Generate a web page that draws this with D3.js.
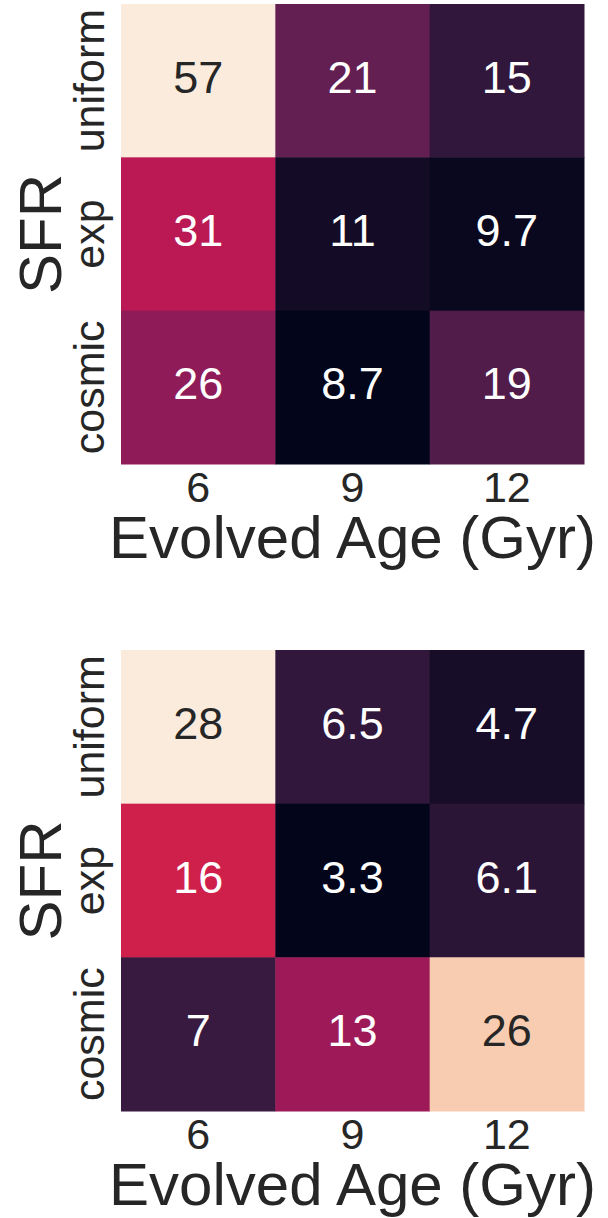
<!DOCTYPE html>
<html>
<head>
<meta charset="utf-8">
<script src="https://cdn.jsdelivr.net/npm/d3@7"></script>
<style>
  body { margin: 0; background: #fff; }
  text { font-family: "Liberation Sans", Arial, sans-serif; fill: #262626; }
</style>
</head>
<body>
<script>
const w = 608;
const h = 1218;

// categories
const ages = ["6", "9", "12"];
const sfrs = ["uniform", "exp", "cosmic"];

// cell values, one row per SFR
const topValues = [
  [57, 21, 15],
  [31, 11, 9.7],
  [26, 8.7, 19]
];
const bottomValues = [
  [28, 6.5, 4.7],
  [16, 3.3, 6.1],
  [7, 13, 26]
];

// seaborn "rocket" colormap, sampled (position, colour)
const rocketPos = [0, 1 / 7, 2 / 7, 3 / 7, 0.5, 4 / 7, 5 / 7, 6 / 7, 1];
const rocketStops = ["#03051a", "#35193e", "#701f57", "#ad1759", "#cb1b4f", "#e13342", "#f37651", "#f6b48f", "#faebdd"];
const rocket = d3.scaleLinear()
  .domain(rocketPos)
  .range(rocketStops)
  .interpolate(d3.interpolateRgb);

function luminance(c) {
  const rgb = d3.rgb(c);
  const lin = v => {
    v = v / 255;
    return v <= 0.03928 ? v / 12.92 : Math.pow((v + 0.055) / 1.055, 2.4);
  };
  return 0.2126 * lin(rgb.r) + 0.7152 * lin(rgb.g) + 0.0722 * lin(rgb.b);
}

const svg = d3.select("body").append("svg").attr("width", w).attr("height", h);

const left = 121, right = 584;

function heatmap(values, top, bottom) {
  const cells = [];
  values.forEach((row, i) => row.forEach((v, j) => cells.push({ sfr: sfrs[i], age: ages[j], v: v })));

  const xScale = d3.scaleBand().domain(ages).range([left, right]);
  const yScale = d3.scaleBand().domain(sfrs).range([top, bottom]);
  const color = d3.scaleSequential(rocket).domain(d3.extent(cells, d => d.v));

  const g = svg.append("g");

  g.selectAll("rect")
    .data(cells)
    .enter()
    .append("rect")
    .attr("x", d => xScale(d.age))
    .attr("y", d => yScale(d.sfr))
    .attr("width", xScale.bandwidth() + 0.5)
    .attr("height", yScale.bandwidth() + 0.5)
    .attr("fill", d => color(d.v));

  // annotations
  g.selectAll("text.annot")
    .data(cells)
    .enter()
    .append("text")
    .attr("class", "annot")
    .attr("x", d => xScale(d.age) + xScale.bandwidth() / 2)
    .attr("y", d => yScale(d.sfr) + yScale.bandwidth() / 2)
    .attr("dy", "0.27em")
    .attr("text-anchor", "middle")
    .style("font-size", "45px")
    .style("fill", d => luminance(color(d.v)) > 0.408 ? "#262626" : "#ffffff")
    .text(d => d3.format(".2")(d.v));

  // x axis
  const xAxis = g.append("g")
    .attr("transform", "translate(0," + bottom + ")")
    .call(d3.axisBottom(xScale).tickSize(0));
  xAxis.select(".domain").remove();
  xAxis.selectAll("text")
    .attr("y", 38)
    .attr("dy", 0)
    .style("font-size", "43px")
    .style("fill", "#262626");

  // y axis, labels rotated
  const yAxis = g.append("g")
    .attr("transform", "translate(" + left + ",0)")
    .call(d3.axisLeft(yScale).tickSize(0));
  yAxis.select(".domain").remove();
  yAxis.selectAll("text")
    .attr("x", 0)
    .attr("y", -17)
    .attr("dy", 0)
    .attr("transform", "rotate(-90)")
    .attr("text-anchor", "middle")
    .style("font-size", "43px")
    .style("fill", "#262626");

  // axis titles
  g.append("text")
    .attr("x", (left + right) / 2)
    .attr("y", bottom + 94)
    .attr("text-anchor", "middle")
    .style("font-size", "60px")
    .text("Evolved Age (Gyr)");

  g.append("text")
    .attr("transform", "translate(61," + (top + bottom) / 2 + ") rotate(-90)")
    .attr("text-anchor", "middle")
    .style("font-size", "60px")
    .text("SFR");
}

heatmap(topValues, 4, 464);
heatmap(bottomValues, 650, 1111);
</script>
</body>
</html>
